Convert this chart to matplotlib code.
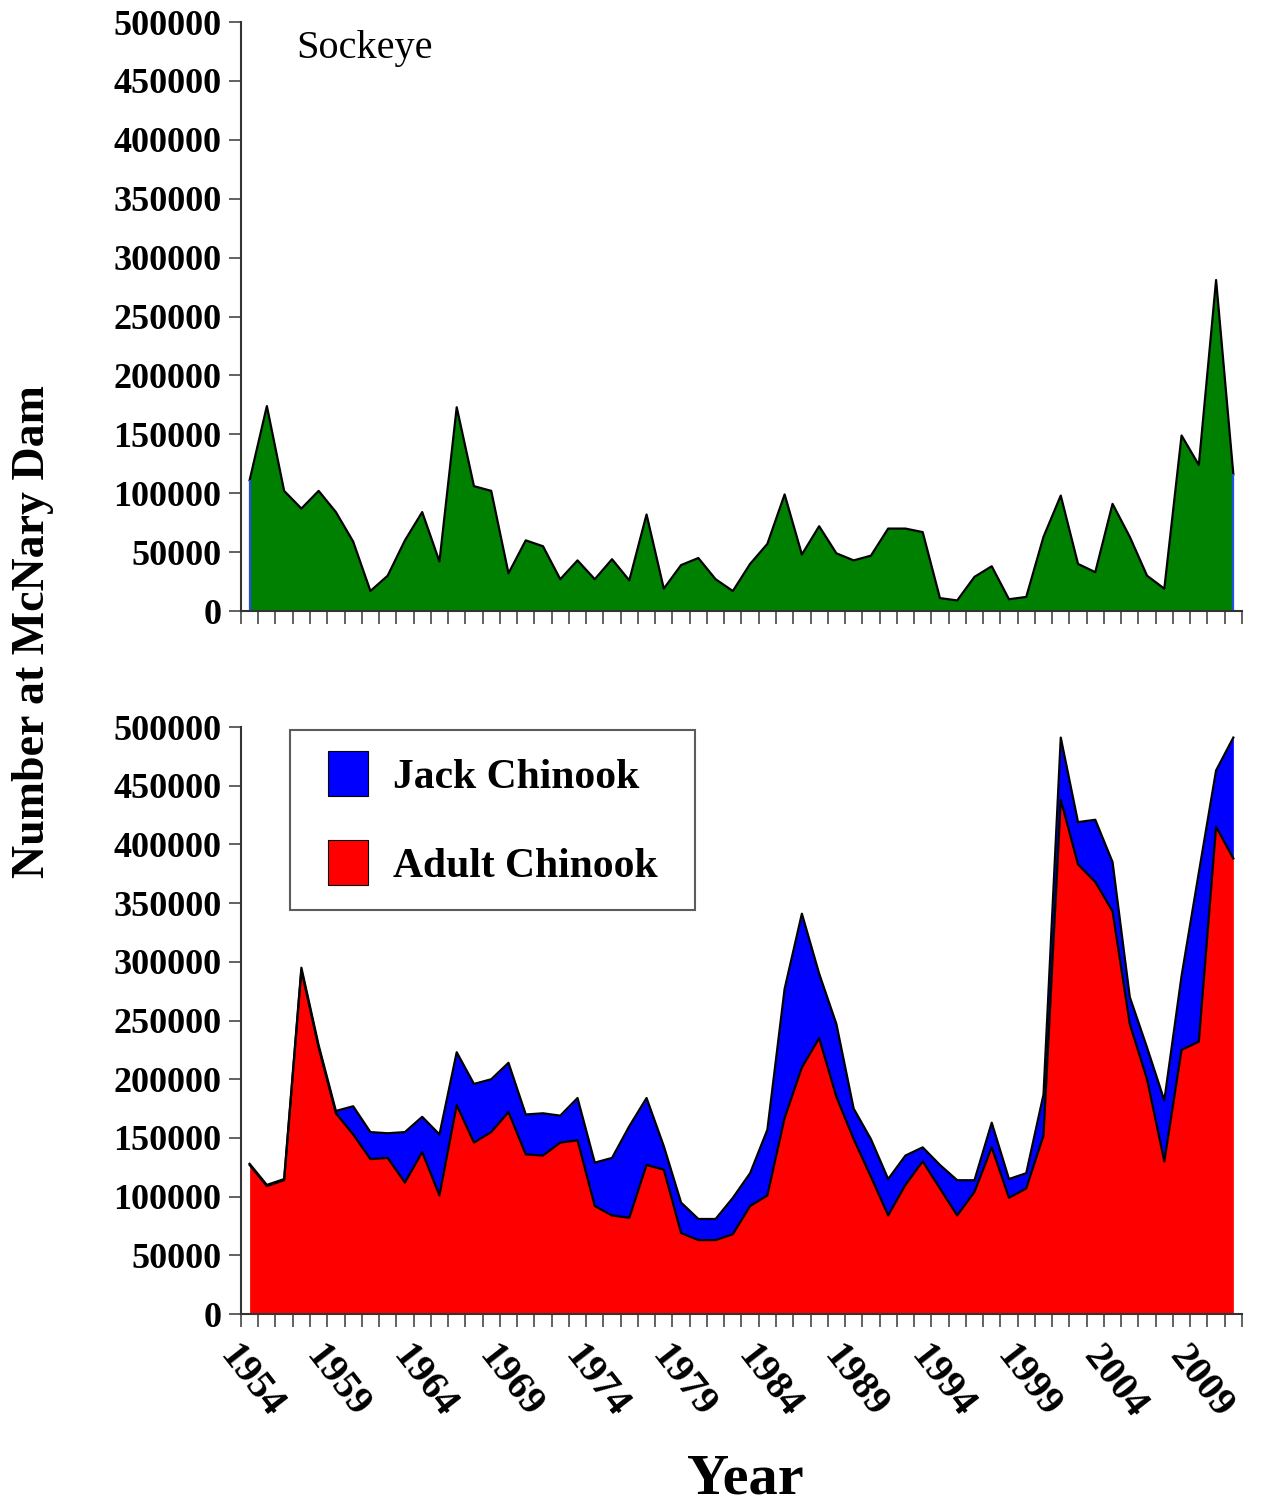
import matplotlib

matplotlib.use("Agg")

import matplotlib.pyplot as plt
import numpy as np
from matplotlib.legend_handler import HandlerPatch
from matplotlib.patches import Patch, Rectangle

# Fish counts at McNary Dam, 1954-2011
years = list(range(1954, 2012))

sockeye = [
    111000, 174000, 102000, 87000, 102000, 84000, 59000, 17000, 30000, 60000,
    84000, 42000, 173000, 106000, 102000, 32000, 60000, 55000, 27000, 43000,
    27000, 44000, 26000, 82000, 19000, 39000, 45000, 27000, 17000, 40000,
    57000, 99000, 48000, 72000, 49000, 43000, 47000, 70000, 70000, 67000,
    11000, 9000, 29000, 38000, 10000, 12000, 63000, 98000, 40000, 33000,
    91000, 63000, 30000, 19000, 149000, 124000, 281000, 116000,
]

adult_chinook = [
    127000, 109000, 114000, 293000, 227000, 171000, 153000, 132000, 133000, 112000,
    138000, 101000, 178000, 146000, 155000, 172000, 136000, 135000, 146000, 148000,
    92000, 84000, 82000, 127000, 123000, 69000, 63000, 63000, 68000, 92000,
    101000, 167000, 210000, 235000, 185000, 149000, 117000, 84000, 110000, 130000,
    107000, 84000, 104000, 142000, 99000, 107000, 152000, 438000, 383000, 368000,
    343000, 247000, 200000, 130000, 225000, 232000, 415000, 388000,
]

jack_chinook = [
    1000, 1000, 1000, 2000, 2000, 2000, 24000, 23000, 21000, 43000,
    30000, 52000, 45000, 50000, 45000, 42000, 34000, 36000, 23000, 36000,
    37000, 49000, 78000, 57000, 20000, 26000, 18000, 18000, 31000, 28000,
    56000, 110000, 131000, 55000, 62000, 26000, 32000, 31000, 25000, 12000,
    20000, 30000, 10000, 21000, 16000, 13000, 35000, 53000, 36000, 53000,
    42000, 23000, 27000, 52000, 63000, 144000, 48000, 103000,
]

SERIF = ["Liberation Serif", "DejaVu Serif"]
TICK_COLOR = "#555555"

plt.rcParams["font.family"] = SERIF
plt.rcParams["font.weight"] = "bold"


def square_patch(legend, orig_handle, xdescent, ydescent, width, height, fontsize):
    # legend key drawn as a square pushed to the right end of the handle box
    w, h = 28.8, 32.4
    return Rectangle((-xdescent + width - w, -ydescent + (height - h) / 2), w, h)


fig = plt.figure(figsize=(12.65, 15.08), dpi=100)
ax_top = fig.add_axes([0.1905, 0.5948, 0.7913, 0.3906])
ax_bot = fig.add_axes([0.1905, 0.1286, 0.7913, 0.3893])

x = np.arange(len(years))
adult = np.array(adult_chinook)
total = adult + np.array(jack_chinook)
sock = np.array(sockeye)

# --- sockeye panel
ax_top.fill_between(x, 0, sock, color="#008000", linewidth=0)
ax_top.plot(x, sock, color="black", linewidth=1.6)
ax_top.vlines([x[0], x[-1]], 0, [sock[0], sock[-1]], color="#2050e0", linewidth=1.6)
ax_top.text(0.055, 0.955, "Sockeye", transform=ax_top.transAxes,
            fontsize=29, fontweight="normal", va="center", ha="left")

# --- chinook panel (adult + jack stacked)
ax_bot.fill_between(x, adult, total, color="#0000ff", linewidth=0)
ax_bot.fill_between(x, 0, adult, color="#ff0000", linewidth=0)
ax_bot.plot(x, total, color="black", linewidth=1.6)
ax_bot.plot(x, adult, color="black", linewidth=1.6)

handles = [
    Patch(facecolor="#0000ff", edgecolor="black", linewidth=0.8, label="Jack Chinook"),
    Patch(facecolor="#ff0000", edgecolor="black", linewidth=0.8, label="Adult Chinook"),
]
leg = ax_bot.legend(handles=handles, loc="upper left",
                    bbox_to_anchor=(0.049, 0.6934, 0.4046, 0.3015), mode="expand",
                    frameon=True, fancybox=False, borderpad=0.58,
                    labelspacing=1.1, handlelength=1.29, handleheight=1.08,
                    handletextpad=0.6, borderaxespad=0,
                    handler_map={Patch: HandlerPatch(patch_func=square_patch)},
                    prop={"family": SERIF, "weight": "bold", "size": 30})
leg.get_frame().set_edgecolor("#333333")
leg.get_frame().set_linewidth(1.5)

bounds = np.arange(len(years) + 1) - 0.5
for ax in (ax_top, ax_bot):
    ax.set_xlim(-0.5, len(years) - 0.5)
    ax.set_ylim(0, 500000)
    ax.set_yticks(np.arange(0, 500001, 50000))
    ax.spines["top"].set_visible(False)
    ax.spines["right"].set_visible(False)
    for s in ("left", "bottom"):
        ax.spines[s].set_color("#333333")
        ax.spines[s].set_linewidth(1.5)
    ax.set_xticks(bounds)
    ax.tick_params(axis="y", length=9, width=1.3, color=TICK_COLOR, pad=5,
                   labelsize=26)
    ax.tick_params(axis="x", length=9, width=1.3, color=TICK_COLOR)
    for lab in ax.get_yticklabels():
        lab.set_fontweight("bold")

ax_top.set_xticklabels([])
ax_bot.set_xticklabels([str(y) if (y - 1954) % 5 == 0 else "" for y in years + [2012]],
                       fontsize=29, fontweight="bold")
ax_bot.tick_params(axis="x", pad=9)
for lab in ax_bot.get_xticklabels():
    lab.set_rotation(-52)
    lab.set_ha("left")
    lab.set_va("top")
    lab.set_rotation_mode("anchor")

fig.text(0.026, 0.581, "Number at McNary Dam", rotation=90, ha="center", va="center",
         fontsize=33, fontweight="bold")
fig.text(0.589, 0.0186, "Year", ha="center", va="center", fontsize=42, fontweight="bold")

fig.savefig("out.png", dpi=100)
